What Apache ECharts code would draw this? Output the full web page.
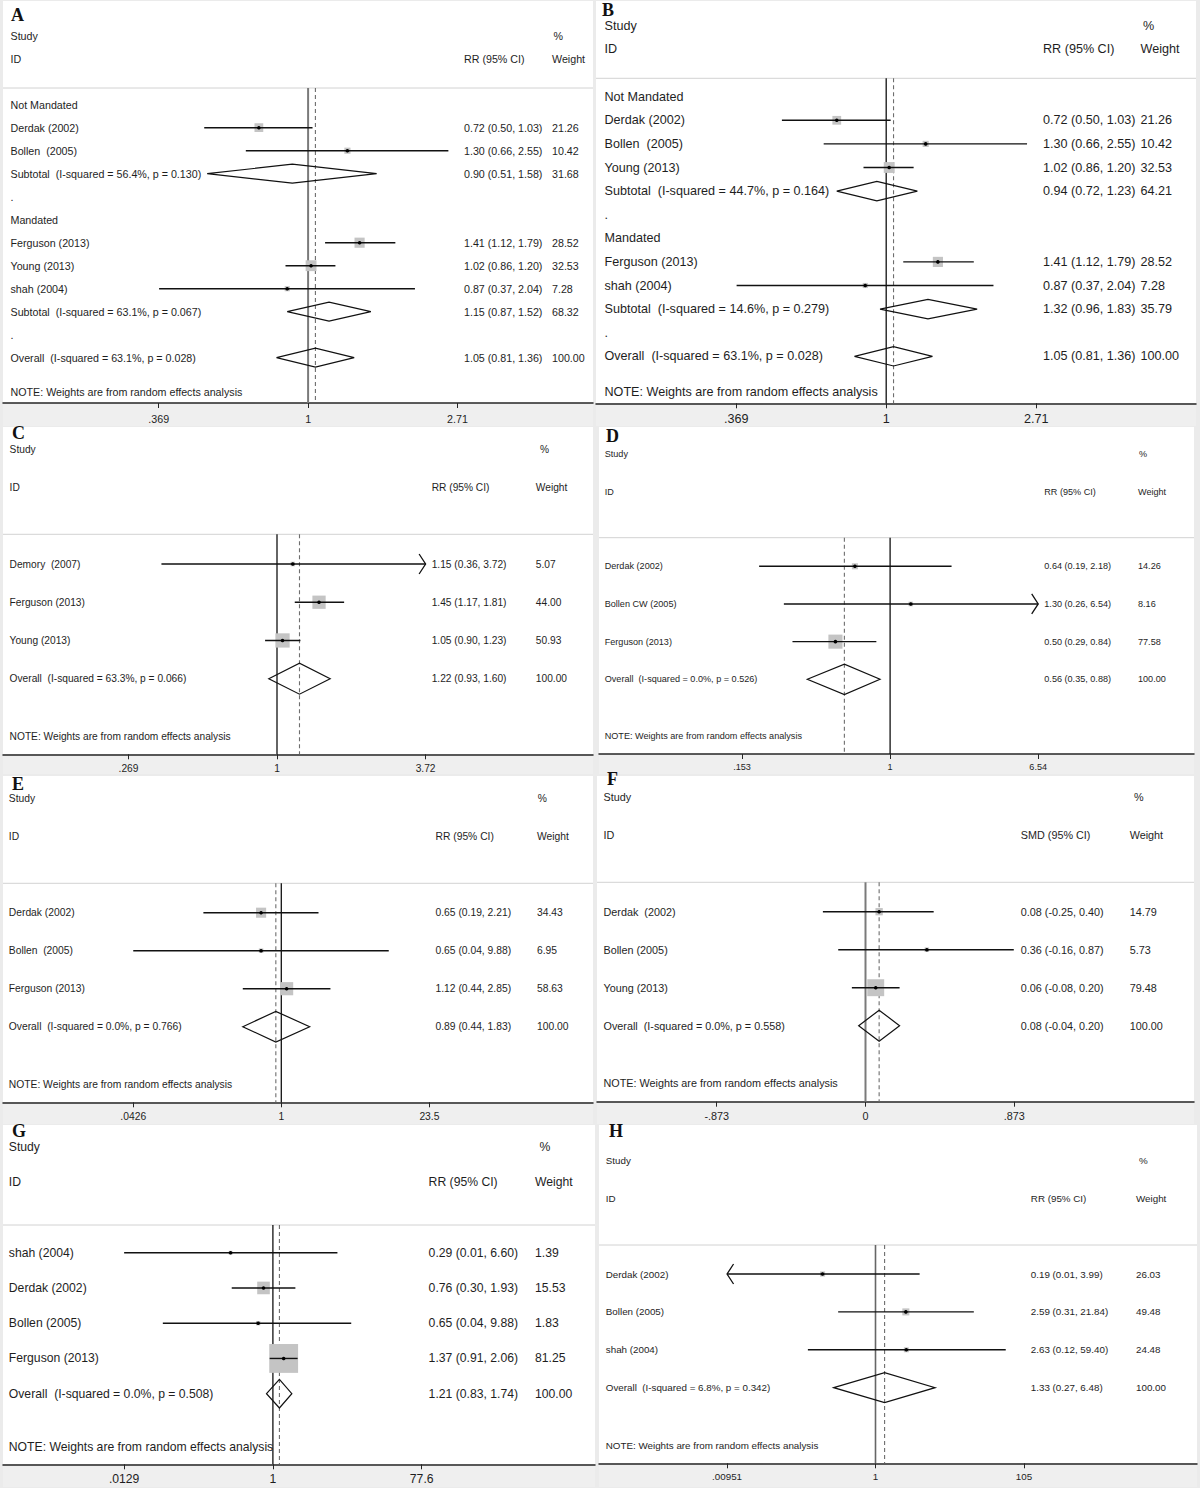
<!DOCTYPE html>
<html><head><meta charset="utf-8">
<script src="https://cdn.jsdelivr.net/npm/echarts@6/dist/echarts.min.js"></script>
<style>html,body{margin:0;padding:0;background:#ebebeb;}#c{width:1200px;height:1488px;}</style>
</head><body><div id="c"></div>
<script>
// ---------------- DATA ----------------
// Panel A
const A_labels = ['Not Mandated','Derdak (2002)','Bollen  (2005)','Subtotal  (I-squared = 56.4%, p = 0.130)','.','Mandated','Ferguson (2013)','Young (2013)','shah (2004)','Subtotal  (I-squared = 63.1%, p = 0.067)','.','Overall  (I-squared = 63.1%, p = 0.028)'];
const A_types = ['group','study','study','sub','gap','group','study','study','study','sub','gap','overall'];
const A_rr = [null,0.72,1.30,0.90,null,null,1.41,1.02,0.87,1.15,null,1.05];
const A_lo = [null,0.50,0.66,0.51,null,null,1.12,0.86,0.37,0.87,null,0.81];
const A_hi = [null,1.03,2.55,1.58,null,null,1.79,1.20,2.04,1.52,null,1.36];
const A_wt = [null,21.26,10.42,31.68,null,null,28.52,32.53,7.28,68.32,null,100.00];
const A_clip = [0,0,0,0,0,0,0,0,0,0,0,0];
const A_ticks = ['.369','1','2.71'];
const A_tickVals = [0.369,1,2.71];

// Panel B
const B_labels = ['Not Mandated','Derdak (2002)','Bollen  (2005)','Young (2013)','Subtotal  (I-squared = 44.7%, p = 0.164)','.','Mandated','Ferguson (2013)','shah (2004)','Subtotal  (I-squared = 14.6%, p = 0.279)','.','Overall  (I-squared = 63.1%, p = 0.028)'];
const B_types = ['group','study','study','study','sub','gap','group','study','study','sub','gap','overall'];
const B_rr = [null,0.72,1.30,1.02,0.94,null,null,1.41,0.87,1.32,null,1.05];
const B_lo = [null,0.50,0.66,0.86,0.72,null,null,1.12,0.37,0.96,null,0.81];
const B_hi = [null,1.03,2.55,1.20,1.23,null,null,1.79,2.04,1.83,null,1.36];
const B_wt = [null,21.26,10.42,32.53,64.21,null,null,28.52,7.28,35.79,null,100.00];
const B_clip = [0,0,0,0,0,0,0,0,0,0,0,0];
const B_ticks = ['.369','1','2.71'];
const B_tickVals = [0.369,1,2.71];

// Panel C
const C_labels = ['Demory  (2007)','Ferguson (2013)','Young (2013)','Overall  (I-squared = 63.3%, p = 0.066)'];
const C_types = ['study','study','study','overall'];
const C_rr = [1.15,1.45,1.05,1.22];
const C_lo = [0.36,1.17,0.90,0.93];
const C_hi = [3.72,1.81,1.23,1.60];
const C_wt = [5.07,44.00,50.93,100.00];
const C_clip = [1,0,0,0];
const C_ticks = ['.269','1','3.72'];
const C_tickVals = [0.269,1,3.72];

// Panel D
const D_labels = ['Derdak (2002)','Bollen CW (2005)','Ferguson (2013)','Overall  (I-squared = 0.0%, p = 0.526)'];
const D_types = ['study','study','study','overall'];
const D_rr = [0.64,1.30,0.50,0.56];
const D_lo = [0.19,0.26,0.29,0.35];
const D_hi = [2.18,6.54,0.84,0.88];
const D_wt = [14.26,8.16,77.58,100.00];
const D_clip = [0,1,0,0];
const D_ticks = ['.153','1','6.54'];
const D_tickVals = [0.153,1,6.54];

// Panel E
const E_labels = ['Derdak (2002)','Bollen  (2005)','Ferguson (2013)','Overall  (I-squared = 0.0%, p = 0.766)'];
const E_types = ['study','study','study','overall'];
const E_rr = [0.65,0.65,1.12,0.89];
const E_lo = [0.19,0.0426,0.44,0.44];
const E_hi = [2.21,9.88,2.85,1.83];
const E_wt = [34.43,6.95,58.63,100.00];
const E_clip = [0,0,0,0];
const E_ticks = ['.0426','1','23.5'];
const E_tickVals = [0.0426,1,23.5];

// Panel F (SMD, linear)
const F_labels = ['Derdak  (2002)','Bollen (2005)','Young (2013)','Overall  (I-squared = 0.0%, p = 0.558)'];
const F_types = ['study','study','study','overall'];
const F_smd = [0.08,0.36,0.06,0.08];
const F_lo = [-0.25,-0.16,-0.08,-0.04];
const F_hi = [0.40,0.87,0.20,0.20];
const F_wt = [14.79,5.73,79.48,100.00];
const F_clip = [0,0,0,0];
const F_ticks = ['-.873','0','.873'];
const F_tickVals = [-0.873,0,0.873];

// Panel G
const G_labels = ['shah (2004)','Derdak (2002)','Bollen (2005)','Ferguson (2013)','Overall  (I-squared = 0.0%, p = 0.508)'];
const G_types = ['study','study','study','study','overall'];
const G_rr = [0.29,0.76,0.65,1.37,1.21];
const G_lo = [0.0129,0.30,0.04,0.91,0.83];
const G_hi = [6.60,1.93,9.88,2.06,1.74];
const G_wt = [1.39,15.53,1.83,81.25,100.00];
const G_clip = [0,0,0,0,0];
const G_ticks = ['.0129','1','77.6'];
const G_tickVals = [0.0129,1,77.6];

// Panel H
const H_labels = ['Derdak (2002)','Bollen (2005)','shah (2004)','Overall  (I-squared = 6.8%, p = 0.342)'];
const H_types = ['study','study','study','overall'];
const H_rr = [0.19,2.59,2.63,1.33];
const H_lo = [0.009,0.31,0.12,0.27];
const H_hi = [3.99,21.84,59.40,6.48];
const H_wt = [26.03,49.48,24.48,100.00];
const H_clip = [-1,0,0,0];
const H_ticks = ['.00951','1','105'];
const H_tickVals = [0.00951,1,105];

const NOTE = 'NOTE: Weights are from random effects analysis';

// ---------------- LAYOUT (pixels / styles) ----------------
const LAY = {
 A:{x0:3,x1:593,top:1,axisY:403,bottom:427,headerY:88,row0:104.7,dy:23.0,xNull:308.1,xTick:457.5,font:10.7,studyY:36,idY:59,labelX:10.5,ciX:464,wX:552,pctX:553.5,noteY:392,lx:11,ly:15,boxK:1.9,diaH:9.5,nullC:'#7a7a7a',nullW:2,labelY:419},
 B:{x0:596,x1:1196,top:1,axisY:403.3,bottom:427,headerY:78.3,row0:96.7,dy:23.6,xNull:886.2,xTick:1036.2,font:12.6,studyY:26,idY:49.3,labelX:604.5,ciX:1043,wX:1140.5,pctX:1143,noteY:391.7,lx:602,ly:10,boxK:1.9,diaH:9.7,nullC:'#111',nullW:1.3,labelY:419},
 C:{x0:3,x1:593,top:427,axisY:754.3,bottom:775,headerY:534.3,row0:564,dy:38.23,xNull:277,xTick:425.6,font:10.2,studyY:449.3,idY:487.7,labelX:9.6,ciX:431.7,wX:535.8,pctX:540,noteY:736,lx:12,ly:433,boxK:2.0,diaH:15.5,nullC:'#111',nullW:1.3,labelY:768.3},
 D:{x0:599,x1:1194,top:427,axisY:754,bottom:775,headerY:537.7,row0:566.3,dy:37.67,xNull:890.1,xTick:1038.2,font:9.1,studyY:453.7,idY:491.7,labelX:604.7,ciX:1044.3,wX:1138,pctX:1139,noteY:735.7,lx:606,ly:436,boxK:1.6,diaH:15.2,nullC:'#111',nullW:1.3,labelY:767.3},
 E:{x0:3,x1:593,top:776,axisY:1102.3,bottom:1125,headerY:883.3,row0:912.7,dy:38,xNull:281.3,xTick:429.4,font:10.3,studyY:798.7,idY:836.7,labelX:8.8,ciX:435.5,wX:537,pctX:537.7,noteY:1084,lx:12,ly:784,boxK:1.72,diaH:15.3,nullC:'#111',nullW:1.3,labelY:1116.3},
 F:{x0:597,x1:1194,top:776,axisY:1101.7,bottom:1125,headerY:882.3,row0:911.7,dy:38,xNull:865.5,xTick:1014.3,font:10.8,studyY:797.3,idY:835.3,labelX:603.5,ciX:1020.8,wX:1129.7,pctX:1134,noteY:1083.3,lx:607,ly:779,boxK:1.9,diaH:15.5,nullC:'#7a7a7a',nullW:2,labelY:1116.3},
 G:{x0:3,x1:595,top:1125,axisY:1464.3,bottom:1488,headerY:1225,row0:1252.7,dy:35.25,xNull:272.9,xTick:421.7,font:12.2,studyY:1147.3,idY:1182.3,labelX:8.8,ciX:428.6,wX:535,pctX:539.6,noteY:1447,lx:12,ly:1131,boxK:3.2,diaH:14.3,nullC:'#111',nullW:1.3,labelY:1479},
 H:{x0:599,x1:1197,top:1125,axisY:1463.3,bottom:1488,headerY:1245,row0:1274,dy:37.9,xNull:875.5,xTick:1023.9,font:9.8,studyY:1160.7,idY:1198.3,labelX:605.8,ciX:1030.8,wX:1136,pctX:1139,noteY:1445,lx:609,ly:1131,boxK:1.0,diaH:15,nullC:'#666',nullW:1.6,labelY:1476.7}
};

const panels = [
 {id:'A',log:true,ci:'RR (95% CI)',labels:A_labels,types:A_types,est:A_rr,lo:A_lo,hi:A_hi,wt:A_wt,clip:A_clip,ticks:A_ticks,tickVals:A_tickVals},
 {id:'B',log:true,ci:'RR (95% CI)',labels:B_labels,types:B_types,est:B_rr,lo:B_lo,hi:B_hi,wt:B_wt,clip:B_clip,ticks:B_ticks,tickVals:B_tickVals},
 {id:'C',log:true,ci:'RR (95% CI)',labels:C_labels,types:C_types,est:C_rr,lo:C_lo,hi:C_hi,wt:C_wt,clip:C_clip,ticks:C_ticks,tickVals:C_tickVals},
 {id:'D',log:true,ci:'RR (95% CI)',labels:D_labels,types:D_types,est:D_rr,lo:D_lo,hi:D_hi,wt:D_wt,clip:D_clip,ticks:D_ticks,tickVals:D_tickVals},
 {id:'E',log:true,ci:'RR (95% CI)',labels:E_labels,types:E_types,est:E_rr,lo:E_lo,hi:E_hi,wt:E_wt,clip:E_clip,ticks:E_ticks,tickVals:E_tickVals},
 {id:'F',log:false,ci:'SMD (95% CI)',labels:F_labels,types:F_types,est:F_smd,lo:F_lo,hi:F_hi,wt:F_wt,clip:F_clip,ticks:F_ticks,tickVals:F_tickVals},
 {id:'G',log:true,ci:'RR (95% CI)',labels:G_labels,types:G_types,est:G_rr,lo:G_lo,hi:G_hi,wt:G_wt,clip:G_clip,ticks:G_ticks,tickVals:G_tickVals},
 {id:'H',log:true,ci:'RR (95% CI)',labels:H_labels,types:H_types,est:H_rr,lo:H_lo,hi:H_hi,wt:H_wt,clip:H_clip,ticks:H_ticks,tickVals:H_tickVals}
];

const FONT = '"Liberation Sans", Arial, Helvetica, sans-serif';
const SERIF = '"Liberation Serif", "Times New Roman", serif';
const TXT = '#1e1e1e';
const BOXC = '#c4c4c4';

function tstyle(s, size, extra) {
  return Object.assign({text:s, fill:TXT, fontSize:size, fontFamily:FONT, align:'left', verticalAlign:'middle', textAlign:'left', textVerticalAlign:'middle'}, extra || {});
}
function gtext(x, y, s, size, extra) {
  return {type:'text', x:x, y:y, z:20, silent:true, style:tstyle(s, size, extra)};
}

const option = {backgroundColor:'#ebebeb', animation:false, grid:[], xAxis:[], yAxis:[], series:[], graphic:{elements:[]}};

panels.forEach(function(P, i){
  const L = LAY[P.id];
  const f = P.log ? Math.log : function(v){return v;};
  const tv = P.tickVals.map(f);
  const ppu = (L.xTick - L.xNull) / tv[2];
  const xmin = (L.x0 - L.xNull) / ppu, xmax = (L.x1 - L.xNull) / ppu;
  const ymin = (L.headerY - L.row0) / L.dy, ymax = (L.axisY - L.row0) / L.dy;
  const G = option.graphic.elements;

  // panel backgrounds & frame lines
  G.push({type:'rect', z:-10, silent:true, shape:{x:L.x0, y:L.top, width:L.x1-L.x0, height:L.axisY-L.top}, style:{fill:'#ffffff'}});
  G.push({type:'rect', z:-10, silent:true, shape:{x:L.x0, y:L.axisY, width:L.x1-L.x0, height:L.bottom-L.axisY-1}, style:{fill:'#efefef'}});
  G.push({type:'line', z:-5, silent:true, shape:{x1:L.x0, y1:L.headerY, x2:L.x1, y2:L.headerY}, style:{stroke:'#d2d2d2', lineWidth:1}});
  // panel letter and headers
  G.push(gtext(L.lx, L.ly, P.id, 18, {fontFamily:SERIF, fontWeight:'bold', fill:'#111'}));
  G.push(gtext(L.labelX, L.studyY, 'Study', L.font));
  G.push(gtext(L.pctX, L.studyY, '%', L.font));
  G.push(gtext(L.labelX, L.idY, 'ID', L.font));
  G.push(gtext(L.ciX, L.idY, P.ci, L.font));
  G.push(gtext(L.wX, L.idY, 'Weight', L.font));
  G.push(gtext(L.labelX, L.noteY, NOTE, L.font));

  option.grid.push({left:L.x0, top:L.headerY, width:L.x1-L.x0, height:L.axisY-L.headerY, containLabel:false, outerBoundsMode:'none', show:false});
  option.xAxis.push({
    gridIndex:i, type:'value', min:xmin, max:xmax, position:'bottom',
    splitLine:{show:false},
    axisLine:{show:true, onZero:false, lineStyle:{color:'#262626', width:1.5}},
    axisTick:{show:true, inside:false, customValues:tv, length:5, lineStyle:{color:'#262626', width:1}},
    axisLabel:{show:true, customValues:tv, margin:L.labelY - L.axisY - L.font/2, fontSize:L.font, fontFamily:FONT, color:TXT,
      formatter:function(v){ let k=0, best=1e9; tv.forEach(function(t,j){ const d=Math.abs(t-v); if(d<best){best=d;k=j;} }); return P.ticks[k]; }}
  });
  option.yAxis.push({gridIndex:i, type:'value', inverse:true, min:ymin, max:ymax, show:false});

  // reference lines: null effect (solid) and overall estimate (dashed)
  const ovIdx = P.types.lastIndexOf('overall');
  option.series.push({
    type:'custom', xAxisIndex:i, yAxisIndex:i, z:1, silent:true, clip:false,
    data:[[f(P.log ? 1 : 0), 0], [f(P.est[ovIdx]), 0]],
    renderItem:function(params, api){
      const cs = params.coordSys;
      const x = api.coord([api.value(0), 0])[0];
      const solid = params.dataIndex === 0;
      return {type:'line', shape:{x1:x, y1:cs.y, x2:x, y2:cs.y+cs.height},
        style: solid ? {stroke:L.nullC, lineWidth:L.nullW} : {stroke:'#6e6e6e', lineWidth:1.1, lineDash:[4,3]}};
    }
  });

  // studies: box, CI line, point estimate
  const sData = [];
  P.types.forEach(function(t, r){ if (t === 'study') sData.push([f(P.est[r]), r, f(P.lo[r]), f(P.hi[r]), P.wt[r], P.clip[r]]); });
  option.series.push({
    type:'custom', xAxisIndex:i, yAxisIndex:i, z:3, silent:true, clip:false, data:sData,
    renderItem:function(params, api){
      const r = api.value(1);
      const pe = api.coord([api.value(0), r]);
      const y = pe[1];
      const c = api.value(5);
      let xl = api.coord([api.value(2), r])[0];
      let xh = api.coord([api.value(3), r])[0];
      if (c === -1) xl = api.coord([tv[0], r])[0];
      if (c === 1) xh = api.coord([tv[2], r])[0];
      const s = L.boxK * Math.sqrt(api.value(4));
      const ch = [
        {type:'rect', shape:{x:pe[0]-s/2, y:y-s/2, width:s, height:s}, style:{fill:BOXC}},
        {type:'line', shape:{x1:xl, y1:y, x2:xh, y2:y}, style:{stroke:'#111', lineWidth:1.4}},
        {type:'circle', shape:{cx:pe[0], cy:y, r:1.8}, style:{fill:'#000'}}
      ];
      if (c === 1) ch.push({type:'polyline', shape:{points:[[xh-6.5,y-10],[xh,y],[xh-6.5,y+10]]}, style:{stroke:'#111', lineWidth:1.3, fill:null}});
      if (c === -1) ch.push({type:'polyline', shape:{points:[[xl+6.5,y-10],[xl,y],[xl+6.5,y+10]]}, style:{stroke:'#111', lineWidth:1.3, fill:null}});
      return {type:'group', children:ch};
    }
  });

  // pooled diamonds
  const dData = [];
  P.types.forEach(function(t, r){ if (t === 'sub' || t === 'overall') dData.push([f(P.est[r]), r, f(P.lo[r]), f(P.hi[r])]); });
  option.series.push({
    type:'custom', xAxisIndex:i, yAxisIndex:i, z:3, silent:true, clip:false, data:dData,
    renderItem:function(params, api){
      const r = api.value(1);
      const pe = api.coord([api.value(0), r]);
      const xl = api.coord([api.value(2), r])[0], xh = api.coord([api.value(3), r])[0];
      const y = pe[1], h = L.diaH;
      return {type:'polygon', shape:{points:[[xl,y],[pe[0],y-h],[xh,y],[pe[0],y+h]]}, style:{fill:null, stroke:'#111', lineWidth:1.2}};
    }
  });

  // row texts
  option.series.push({
    type:'custom', xAxisIndex:i, yAxisIndex:i, z:5, silent:true, clip:false,
    data:P.labels.map(function(l, r){ return [0, r]; }),
    renderItem:function(params, api){
      const r = api.value(1);
      const y = api.coord([0, r])[1];
      const ch = [{type:'text', x:L.labelX, y:y, style:tstyle(P.labels[r], L.font)}];
      if (P.est[r] !== null) {
        const ciTxt = P.est[r].toFixed(2) + ' (' + P.lo[r].toFixed(2) + ', ' + P.hi[r].toFixed(2) + ')';
        ch.push({type:'text', x:L.ciX, y:y, style:tstyle(ciTxt, L.font)});
        ch.push({type:'text', x:L.wX, y:y, style:tstyle(P.wt[r].toFixed(2), L.font)});
      }
      return {type:'group', children:ch};
    }
  });
});

const chart = echarts.init(document.getElementById('c'), null, {renderer:'svg', width:1200, height:1488});
chart.setOption(option);
</script>
</body></html>
